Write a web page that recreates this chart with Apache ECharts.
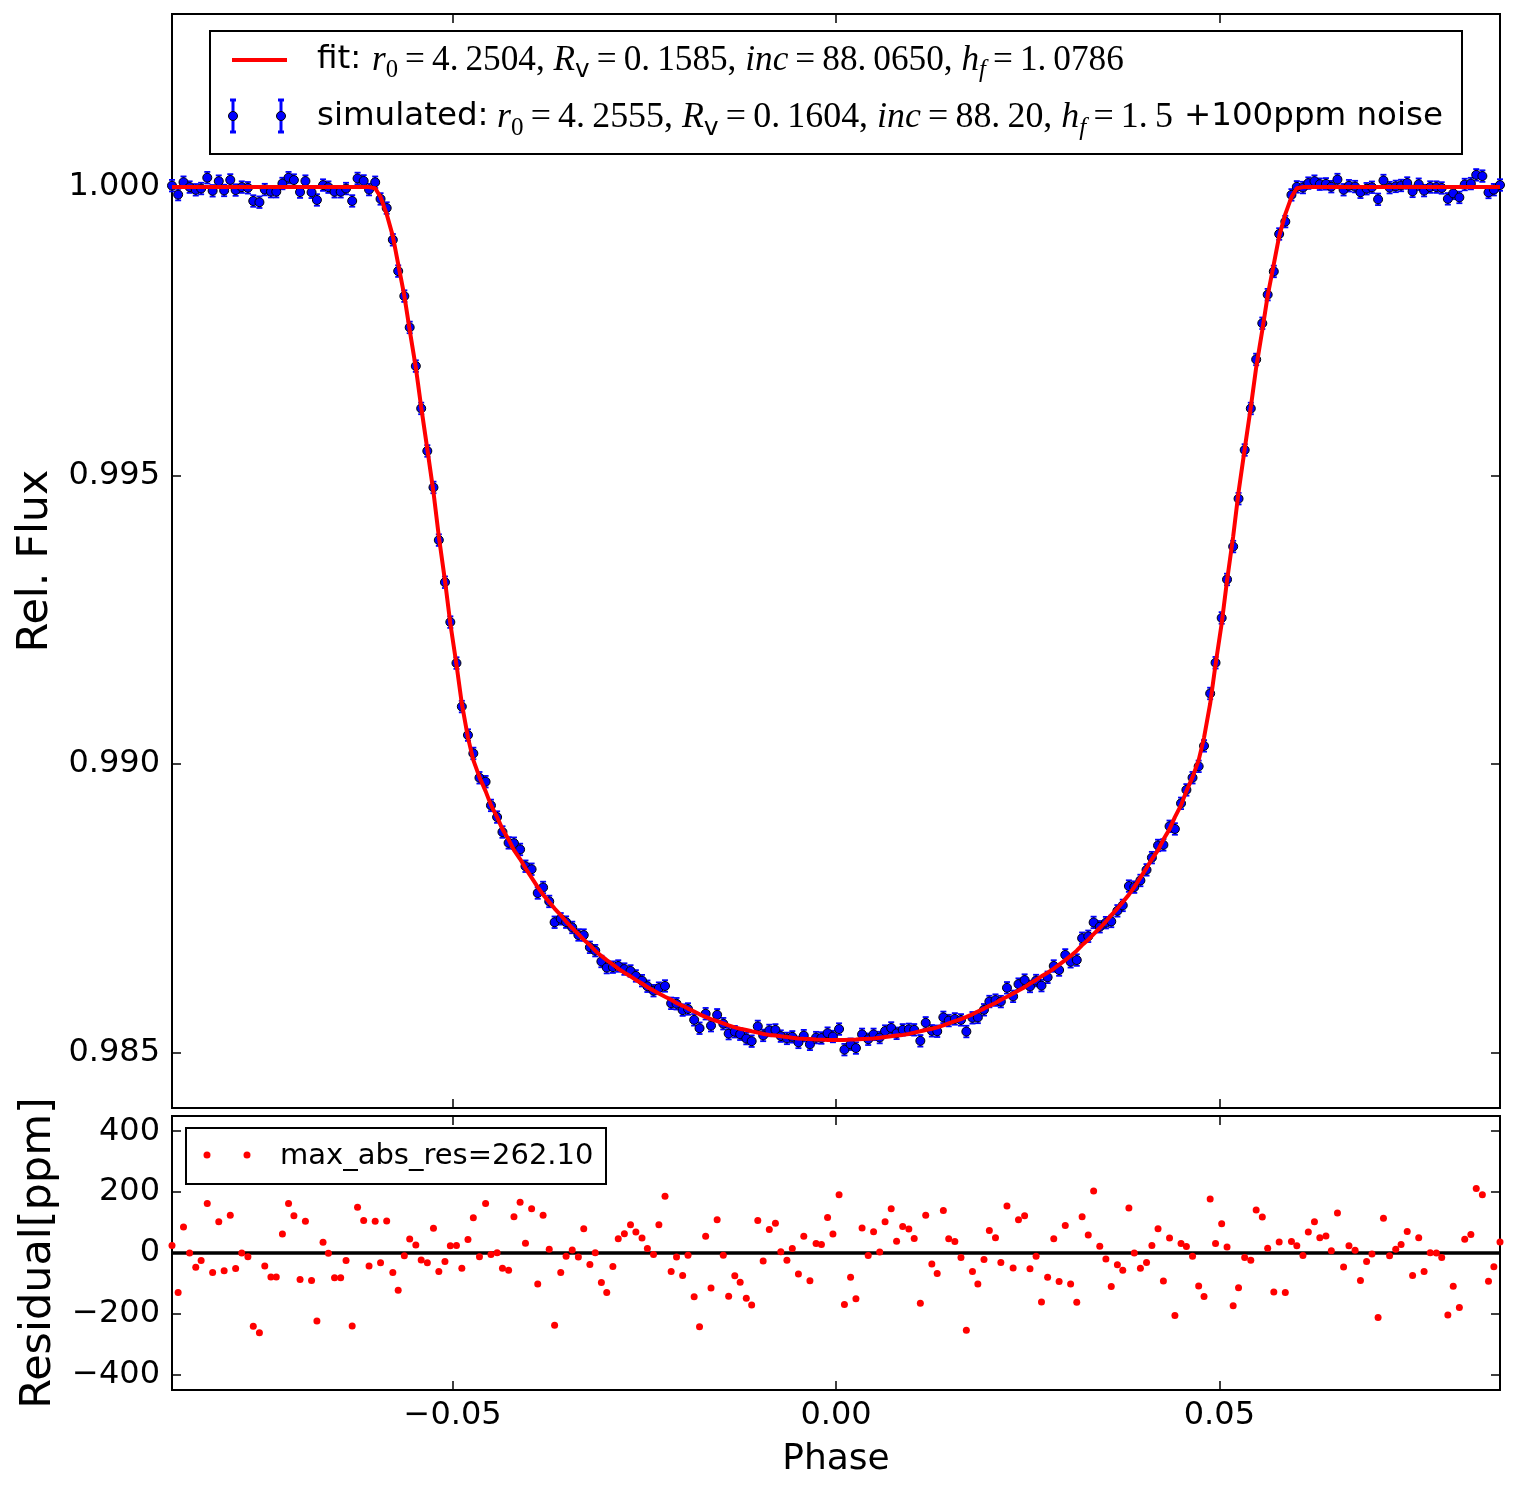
<!DOCTYPE html>
<html>
<head>
<meta charset="utf-8">
<title>Transit light curve fit</title>
<script src="https://cdn.jsdelivr.net/npm/echarts@6/dist/echarts.min.js"></script>
<style>
html, body { margin: 0; padding: 0; background: #fff; }
#chart { width: 1516px; height: 1492px; }
</style>
</head>
<body>
<div id="chart"></div>
<script>
// phase of every simulated point
const phase = [
  -0.0866,-0.0858,-0.0851,-0.0843,-0.0835,-0.0828,-0.0820,-0.0813,-0.0805,-0.0798,
  -0.0790,-0.0783,-0.0775,-0.0767,-0.0760,-0.0752,-0.0745,-0.0737,-0.0730,-0.0722,
  -0.0714,-0.0707,-0.0699,-0.0692,-0.0684,-0.0677,-0.0669,-0.0662,-0.0654,-0.0646,
  -0.0639,-0.0631,-0.0624,-0.0616,-0.0609,-0.0601,-0.0594,-0.0586,-0.0578,-0.0571,
  -0.0563,-0.0556,-0.0548,-0.0541,-0.0533,-0.0525,-0.0518,-0.0510,-0.0503,-0.0495,
  -0.0488,-0.0480,-0.0473,-0.0465,-0.0457,-0.0450,-0.0442,-0.0435,-0.0427,-0.0420,
  -0.0412,-0.0405,-0.0397,-0.0389,-0.0382,-0.0374,-0.0367,-0.0359,-0.0352,-0.0344,
  -0.0336,-0.0329,-0.0321,-0.0314,-0.0306,-0.0299,-0.0291,-0.0284,-0.0276,-0.0268,
  -0.0261,-0.0253,-0.0246,-0.0238,-0.0231,-0.0223,-0.0215,-0.0208,-0.0200,-0.0193,
  -0.0185,-0.0178,-0.0170,-0.0163,-0.0155,-0.0147,-0.0140,-0.0132,-0.0125,-0.0117,
  -0.0110,-0.0102,-0.0095,-0.0087,-0.0079,-0.0072,-0.0064,-0.0057,-0.0049,-0.0042,
  -0.0034,-0.0026,-0.0019,-0.0011,-0.0004,
  0.0004,0.0011,0.0019,0.0026,0.0034,
  0.0042,0.0049,0.0057,0.0064,0.0072,0.0079,0.0087,0.0095,0.0102,0.0110,
  0.0117,0.0125,0.0132,0.0140,0.0147,0.0155,0.0163,0.0170,0.0178,0.0185,
  0.0193,0.0200,0.0208,0.0215,0.0223,0.0231,0.0238,0.0246,0.0253,0.0261,
  0.0268,0.0276,0.0284,0.0291,0.0299,0.0306,0.0314,0.0321,0.0329,0.0336,
  0.0344,0.0352,0.0359,0.0367,0.0374,0.0382,0.0389,0.0397,0.0405,0.0412,
  0.0420,0.0427,0.0435,0.0442,0.0450,0.0457,0.0465,0.0473,0.0480,0.0488,
  0.0495,0.0503,0.0510,0.0518,0.0525,0.0533,0.0541,0.0548,0.0556,0.0563,
  0.0571,0.0578,0.0586,0.0594,0.0601,0.0609,0.0616,0.0624,0.0631,0.0639,
  0.0646,0.0654,0.0662,0.0669,0.0677,0.0684,0.0692,0.0699,0.0707,0.0714,
  0.0722,0.0730,0.0737,0.0745,0.0752,0.0760,0.0767,0.0775,0.0783,0.0790,
  0.0798,0.0805,0.0813,0.0820,0.0828,0.0835,0.0843,0.0851,0.0858,0.0866
];

// simulated relative flux
const flux = [
  1.000025,0.999870,1.000085,1.000000,0.999953,0.999975,1.000163,0.999936,1.000103,0.999942,
  1.000124,0.999949,1.000000,0.999988,0.999759,0.999738,0.999957,0.999921,0.999921,1.000062,
  1.000163,1.000122,0.999913,1.000104,0.999910,0.999777,1.000035,0.999999,0.999919,0.999919,
  0.999975,0.999760,1.000150,1.000107,0.999957,1.000084,0.999795,0.999637,0.999087,0.998544,
  0.998111,0.997568,0.996898,0.996164,0.995427,0.994795,0.993882,0.993152,0.992461,0.991751,
  0.990997,0.990503,0.990185,0.989763,0.989695,0.989284,0.989082,0.988823,0.988635,0.988629,
  0.988521,0.988230,0.988178,0.987766,0.987862,0.987620,0.987259,0.987319,0.987261,0.987169,
  0.987039,0.987037,0.986825,0.986767,0.986579,0.986473,0.986481,0.986501,0.986448,0.986415,
  0.986329,0.986247,0.986150,0.986073,0.986117,0.986155,0.985854,0.985847,0.985737,0.985756,
  0.985568,0.985422,0.985674,0.985467,0.985655,0.985501,0.985329,0.985362,0.985318,0.985243,
  0.985198,0.985454,0.985298,0.985384,0.985393,0.985286,0.985246,0.985273,0.985177,0.985294,
  0.985143,0.985260,0.985253,0.985337,0.985279,0.985408,0.985051,0.985145,0.985079,0.985316,
  0.985231,0.985316,0.985261,0.985373,0.985427,0.985334,0.985394,0.985403,0.985395,0.985204,
  0.985516,0.985378,0.985370,0.985611,0.985555,0.985584,0.985567,0.985365,0.985603,0.985610,
  0.985742,0.985885,0.985910,0.985884,0.986123,0.985975,0.986187,0.986257,0.986146,0.986249,
  0.986161,0.986305,0.986501,0.986431,0.986693,0.986574,0.986604,0.986982,0.987016,0.987256,
  0.987181,0.987252,0.987273,0.987457,0.987551,0.987886,0.987868,0.987983,0.988167,0.988379,
  0.988590,0.988600,0.988922,0.988876,0.989320,0.989553,0.989764,0.989961,0.990316,0.991224,
  0.991757,0.992533,0.993200,0.993770,0.994600,0.995444,0.996163,0.997013,0.997640,0.998136,
  0.998538,0.999187,0.999402,0.999865,1.000004,0.999992,1.000069,1.000103,1.000050,1.000056,
  1.000007,1.000131,0.999954,1.000024,1.000009,0.999910,0.999972,0.999997,0.999788,1.000114,
  0.999991,1.000012,1.000028,1.000071,0.999926,1.000050,0.999939,1.000001,1.000000,0.999985,
  0.999796,0.999891,0.999821,1.000045,1.000061,1.000212,1.000191,0.999907,0.999955,1.000036
];
const fluxErr = 0.0001; // 100 ppm

// fitted model at the same phases
const fitFlux = [
  1,1,1,1,1,1,1,1,1,1, 1,1,1,1,1,1,1,1,1,1, 1,1,1,1,1,1,1,1,1,1, 1,1,1,1,1,
  0.99998,
  0.999827,0.999532,0.999151,0.998666,0.998120,0.997522,0.996872,0.996187,0.995459,0.994714,
  0.993943,0.993180,0.992437,0.991726,0.991047,0.990459,0.990069,0.989775,0.989532,0.989289,
  0.989081,0.988873,0.988692,0.988510,0.988354,0.988198,0.988033,0.987868,0.987738,0.987608,
  0.987496,0.987383,0.987272,0.987159,0.987052,0.986957,0.986863,0.986766,0.986676,0.986603,
  0.986525,0.986454,0.986385,0.986322,0.986260,0.986198,0.986135,0.986078,0.986024,0.985969,
  0.985915,0.985860,0.985811,0.985763,0.985712,0.985664,0.985619,0.985582,0.985546,0.985508,
  0.985471,0.985437,0.985414,0.985392,0.985369,0.985347,0.985324,0.985307,0.985295,0.985282,
  0.985270,0.985258,0.985246,0.985239,0.985234,0.985229,0.985225,0.985220,0.985217,
  0.985217,0.985220,0.985225,0.985229,0.985234,0.985239,0.985246,0.985258,0.985270,
  0.985282,0.985295,0.985307,0.985324,0.985347,0.985369,0.985392,0.985414,0.985437,0.985471,
  0.985508,0.985546,0.985582,0.985619,0.985664,0.985712,0.985763,0.985811,0.985860,0.985915,
  0.985969,0.986024,0.986078,0.986135,0.986198,0.986260,0.986322,0.986385,0.986454,0.986525,
  0.986603,0.986676,0.986766,0.986863,0.986957,0.987052,0.987159,0.987272,0.987383,0.987496,
  0.987608,0.987738,0.987868,0.988033,0.988198,0.988354,0.988510,0.988692,0.988873,0.989081,
  0.989289,0.989532,0.989775,0.990069,0.990459,0.991047,0.991726,0.992437,0.993180,0.993943,
  0.994714,0.995459,0.996187,0.996872,0.997522,0.998120,0.998666,0.999151,0.999532,0.999827,
  0.99998,
  1,1,1,1,1,1,1,1,1,1, 1,1,1,1,1,1,1,1,1,1, 1,1,1,1,1,1,1,1,1,1, 1,1,1,1,1
];

// residuals in ppm
const residualPpm = [
  25,-130,85,0,-47,-25,163,-64,103,-58,
  124,-51,0,-12,-241,-262,-43,-79,-79,62,
  163,122,-87,104,-90,-223,35,-1,-81,-81,
  -25,-240,150,107,-43,104,-32,105,-64,-122,
  -9,46,26,-23,-32,81,-61,-28,24,25,
  -50,44,116,-12,163,-5,1,-50,-57,119,
  167,32,145,-102,124,12,-237,-64,-11,10,
  -13,80,-38,1,-97,-130,-44,47,63,93,
  69,49,15,-5,93,186,-61,-13,-74,-7,
  -144,-242,55,-115,109,-7,-142,-75,-96,-149,
  -171,107,-26,77,98,4,-24,15,-69,55,
  -91,31,28,117,62,191,-169,-80,-150,82,
  -8,70,3,103,145,39,87,79,48,-165,
  124,-36,-67,140,47,38,-15,-254,-61,-102,
  -21,74,50,-31,154,-49,109,122,-52,-11,
  -161,-80,47,-94,90,-102,-162,119,59,204,
  22,-20,-110,-39,-57,148,0,-50,-31,25,
  80,-92,49,-205,31,21,-11,-108,-143,177,
  31,96,20,-173,-114,-15,-24,141,118,16,
  -128,36,-130,38,24,-8,69,103,50,56,
  7,131,-46,24,9,-90,-28,-3,-212,114,
  -9,12,28,71,-74,50,-61,1,0,-15,
  -204,-109,-179,45,61,212,191,-93,-45,36
];

const phaseTicks = [-0.05, 0, 0.05];
const fluxTicks = [0.985, 0.990, 0.995, 1.000];
const residualTicks = [-400, -200, 0, 200, 400];

const SANS = '"DejaVu Sans", sans-serif';
const SERIF = '"Liberation Serif", "DejaVu Serif", serif';
const withMinus = s => s.replace('-', '\u2212');

const chart = echarts.init(document.getElementById('chart'));

// ---- axes helpers ----
function xAxisFor(gridIndex, position, showLabels) {
  return {
    type: 'value', gridIndex, position,
    min: -0.0866, max: 0.0866,
    axisLine: { show: false, onZero: false },
    splitLine: { show: false },
    axisTick: { show: true, inside: true, length: 9, customValues: phaseTicks,
      lineStyle: { color: '#000', width: 1.5 } },
    axisLabel: { show: showLabels, customValues: phaseTicks, margin: 10,
      formatter: v => withMinus(v.toFixed(2)),
      color: '#000', fontSize: 32, fontFamily: SANS }
  };
}
function yAxisFor(gridIndex, position, min, max, ticks, fmt, showLabels) {
  return {
    type: 'value', gridIndex, position, min, max,
    axisLine: { show: false, onZero: false },
    splitLine: { show: false },
    axisTick: { show: true, inside: true, length: 9, customValues: ticks,
      lineStyle: { color: '#000', width: 1.5 } },
    axisLabel: { show: showLabels, customValues: ticks, margin: 12, formatter: fmt,
      color: '#000', fontSize: 32, fontFamily: SANS }
  };
}

const xAxes = [
  xAxisFor(0, 'bottom', false),
  xAxisFor(0, 'top', false),
  Object.assign(xAxisFor(1, 'bottom', true), {
    name: 'Phase', nameLocation: 'middle', nameGap: 52,
    nameTextStyle: { fontSize: 36, color: '#000', fontFamily: SANS }
  }),
  xAxisFor(1, 'top', false)
];
const yAxes = [
  Object.assign(yAxisFor(0, 'left', 0.98404, 1.003, fluxTicks, v => v.toFixed(3), true), {
    name: 'Rel. Flux', nameLocation: 'middle', nameGap: 114,
    nameTextStyle: { fontSize: 43, color: '#000', fontFamily: SANS }
  }),
  yAxisFor(0, 'right', 0.98404, 1.003, fluxTicks, v => v.toFixed(3), false),
  Object.assign(yAxisFor(1, 'left', -450, 450, residualTicks, v => withMinus(String(v)), true), {
    name: 'Residual[ppm]', nameLocation: 'middle', nameGap: 112,
    nameTextStyle: { fontSize: 43, color: '#000', fontFamily: SANS }
  }),
  yAxisFor(1, 'right', -450, 450, residualTicks, v => String(v), false)
];

// ---- legend text with math pieces ----
const measureCtx = document.createElement('canvas').getContext('2d');
function widthOf(text, font) { measureCtx.font = font; return measureCtx.measureText(text).width; }

const MATH_SIZE = 32;
function pieceFont(kind, s) {
  const size = (kind[0] === 's' ? MATH_SIZE * 0.7 : MATH_SIZE) * s;
  if (kind === 'mi' || kind === 'si') return `italic ${size}px ${SERIF}`;
  if (kind === 'ss') return `${size}px ${SANS}`;
  return `${size}px ${SERIF}`;
}
function textEl(text, x, y, font) {
  return {
    type: 'text', x, y, silent: true, z: 110,
    style: { text, font, fill: '#000', textAlign: 'left', textVerticalAlign: 'middle',
      align: 'left', verticalAlign: 'middle' }
  };
}
function mathRun(pieces, x0, yMid, targetWidth) {
  const natural = pieces.reduce((w, [t, k]) => w + widthOf(t, pieceFont(k, 1)), 0);
  const s = targetWidth / natural;
  let x = x0;
  return pieces.map(([t, k]) => {
    const font = pieceFont(k, s);
    const el = textEl(t, x, yMid + (k[0] === 's' ? 9 * s : 0), font);
    x += widthOf(t, font);
    return el;
  });
}

// thin spaces around "=" and after the decimal point, like mathtext
const T = '\u2009';
const fitPieces = [['r', 'mi'], ['0', 'sr'], [T + '=' + T + '4.' + T + '2504, ', 'mr'], ['R', 'mi'], ['v', 'ss'],
  [T + '=' + T + '0.' + T + '1585, ', 'mr'], ['inc', 'mi'], [T + '=' + T + '88.' + T + '0650, ', 'mr'],
  ['h', 'mi'], ['f', 'si'], [T + '=' + T + '1.' + T + '0786', 'mr']];
const simPieces = [['r', 'mi'], ['0', 'sr'], [T + '=' + T + '4.' + T + '2555, ', 'mr'], ['R', 'mi'], ['v', 'ss'],
  [T + '=' + T + '0.' + T + '1604, ', 'mr'], ['inc', 'mi'], [T + '=' + T + '88.' + T + '20, ', 'mr'],
  ['h', 'mi'], ['f', 'si'], [T + '=' + T + '1.' + T + '5', 'mr']];

const legendFont = `32.5px ${SANS}`;
const errStyle = { stroke: '#0000ff', lineWidth: 3 };
function legendErrMarker(x, y) {
  return [
    { type: 'line', z: 110, silent: true, shape: { x1: x, y1: y - 16, x2: x, y2: y + 16 }, style: errStyle },
    { type: 'line', z: 110, silent: true, shape: { x1: x - 3, y1: y - 16, x2: x + 3, y2: y - 16 }, style: errStyle },
    { type: 'line', z: 110, silent: true, shape: { x1: x - 3, y1: y + 16, x2: x + 3, y2: y + 16 }, style: errStyle },
    { type: 'circle', z: 111, silent: true, shape: { cx: x, cy: y, r: 4.5 },
      style: { fill: '#0000ff', stroke: '#000', lineWidth: 1 } }
  ];
}

const graphics = [
  { type: 'rect', z: 100, silent: true, shape: { x: 210, y: 31, width: 1252, height: 123 },
    style: { fill: '#fff', stroke: '#000', lineWidth: 2 } },
  { type: 'line', z: 110, silent: true, shape: { x1: 232, y1: 60, x2: 287, y2: 60 },
    style: { stroke: '#ff0000', lineWidth: 4 } },
  ...legendErrMarker(233, 116),
  ...legendErrMarker(281, 116),
  textEl('fit:', 317, 60, legendFont),
  ...mathRun(fitPieces, 372, 61, 752),
  textEl('simulated:', 317, 117, legendFont),
  ...mathRun(simPieces, 497, 118, 676),
  textEl('+100ppm noise', 1184, 117, legendFont),
  // residual legend
  { type: 'rect', z: 100, silent: true, shape: { x: 186, y: 1128, width: 420, height: 56 },
    style: { fill: '#fff', stroke: '#000', lineWidth: 2 } },
  { type: 'circle', z: 110, silent: true, shape: { cx: 207, cy: 1155, r: 3.5 }, style: { fill: '#ff0000' } },
  { type: 'circle', z: 110, silent: true, shape: { cx: 247, cy: 1155, r: 3.5 }, style: { fill: '#ff0000' } },
  textEl('max_abs_res=262.10', 280, 1156, `29px ${SANS}`)
];

const option = {
  animation: false,
  backgroundColor: '#fff',
  grid: [
    { left: 172, top: 14, width: 1328, height: 1094, show: true, borderColor: '#000', borderWidth: 2 },
    { left: 172, top: 1116, width: 1328, height: 274, show: true, borderColor: '#000', borderWidth: 2 }
  ],
  xAxis: xAxes,
  yAxis: yAxes,
  series: [
    {
      name: 'errorbars', type: 'custom', xAxisIndex: 0, yAxisIndex: 0, z: 2,
      data: phase.map((p, i) => [p, flux[i] - fluxErr, flux[i] + fluxErr]),
      renderItem: (params, api) => {
        const lo = api.coord([api.value(0), api.value(1)]);
        const hi = api.coord([api.value(0), api.value(2)]);
        const cap = 3;
        const st = { stroke: '#0000ff', lineWidth: 1.8 };
        return {
          type: 'group', children: [
            { type: 'line', shape: { x1: lo[0], y1: lo[1], x2: hi[0], y2: hi[1] }, style: st },
            { type: 'line', shape: { x1: lo[0] - cap, y1: lo[1], x2: lo[0] + cap, y2: lo[1] }, style: st },
            { type: 'line', shape: { x1: hi[0] - cap, y1: hi[1], x2: hi[0] + cap, y2: hi[1] }, style: st }
          ]
        };
      }
    },
    {
      name: 'simulated', type: 'scatter', xAxisIndex: 0, yAxisIndex: 0, z: 3,
      data: phase.map((p, i) => [p, flux[i]]),
      symbolSize: 9,
      itemStyle: { color: '#0000ff', borderColor: '#000', borderWidth: 1, opacity: 1 }
    },
    {
      name: 'fit', type: 'line', xAxisIndex: 0, yAxisIndex: 0, z: 4,
      data: phase.map((p, i) => [p, fitFlux[i]]),
      showSymbol: false, symbol: 'none',
      lineStyle: { color: '#ff0000', width: 4 }
    },
    {
      name: 'zero', type: 'line', xAxisIndex: 2, yAxisIndex: 2, z: 2, data: [],
      markLine: {
        silent: true, symbol: 'none', label: { show: false },
        lineStyle: { color: '#000', width: 3.5, type: 'solid' },
        data: [{ yAxis: 0 }]
      }
    },
    {
      name: 'residual', type: 'scatter', xAxisIndex: 2, yAxisIndex: 2, z: 5,
      data: phase.map((p, i) => [p, residualPpm[i]]),
      symbolSize: 7,
      itemStyle: { color: '#ff0000', opacity: 1 }
    }
  ],
  graphic: graphics
};

chart.setOption(option);
</script>
</body>
</html>
